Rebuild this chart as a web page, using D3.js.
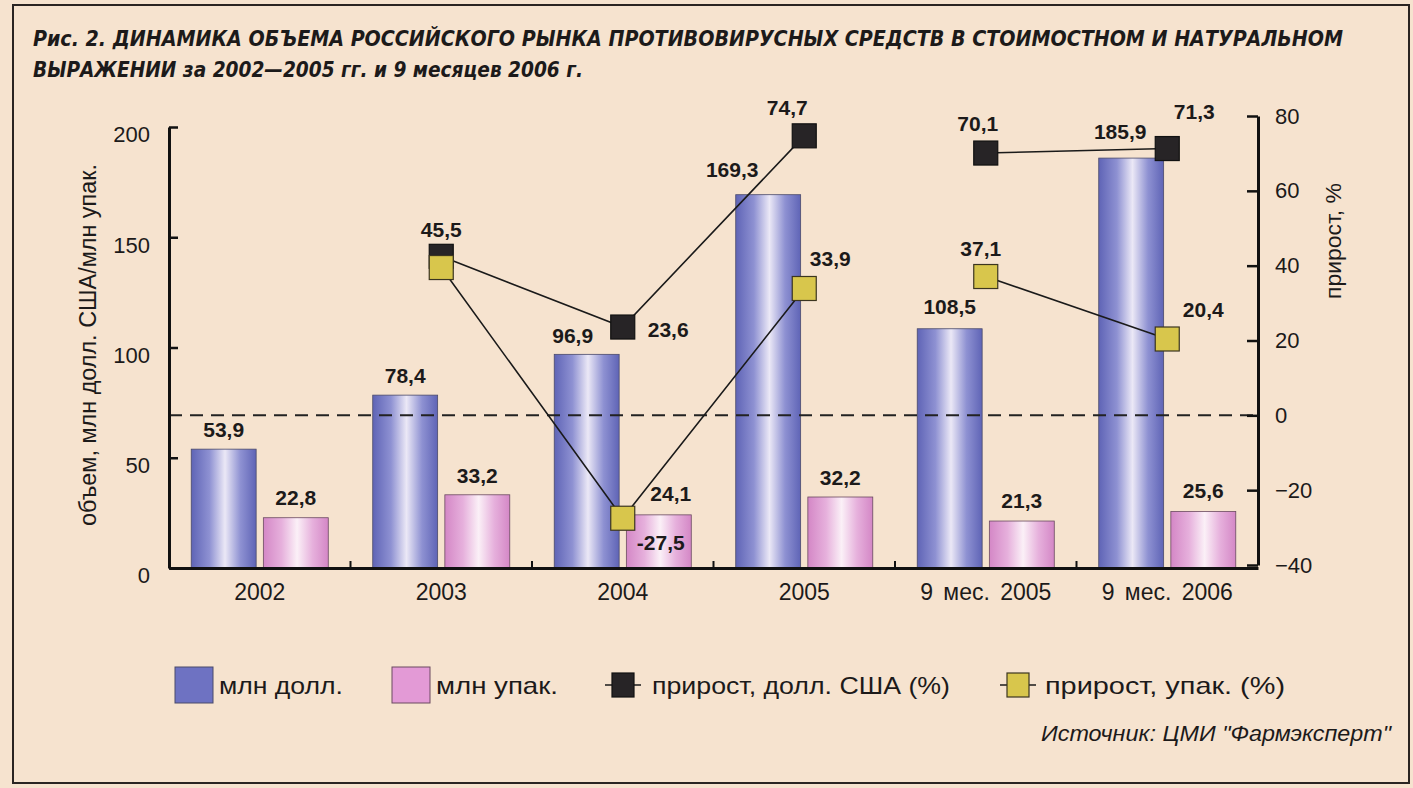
<!DOCTYPE html>
<html>
<head>
<meta charset="utf-8">
<script src="https://cdn.jsdelivr.net/npm/d3@7"></script>
<style>
  html, body { margin: 0; padding: 0; background: #f6e3cf; }
  svg { display: block; }
  text { font-family: "Liberation Sans", Arial, sans-serif; fill: #1c1a1a; }
</style>
</head>
<body>
<svg id="chart" width="1413" height="788"></svg>
<script>
// ---------- data ----------
const categories = ["2002", "2003", "2004", "2005", "9 мес. 2005", "9 мес. 2006"];
const periodGroup = ["year", "year", "year", "year", "9m", "9m"];
const usdValues  = [53.9, 78.4, 96.9, 169.3, 108.5, 185.9];   // млн долл.
const packValues = [22.8, 33.2, 24.1, 32.2, 21.3, 25.6];      // млн упак.
const usdGrowth  = [null, 42.5, 23.6, 74.7, 70.1, 71.3];      // прирост, долл. США (%)
const packGrowth = [null, 39.5, -27.5, 33.9, 37.1, 20.4];     // прирост, упак. (%)
const usdGrowthLabels  = [null, "45,5", "23,6", "74,7", "70,1", "71,3"];
const packGrowthLabels = [null, null, "-27,5", "33,9", "37,1", "20,4"];
const leftTicks  = [0, 50, 100, 150, 200];
const rightTicks = [-40, -20, 0, 20, 40, 60, 80];
const titleLines = [
  "Рис. 2. ДИНАМИКА ОБЪЕМА РОССИЙСКОГО РЫНКА ПРОТИВОВИРУСНЫХ СРЕДСТВ В СТОИМОСТНОМ И НАТУРАЛЬНОМ",
  "ВЫРАЖЕНИИ за 2002—2005 гг. и 9 месяцев 2006 г."
];
const leftTitle = "объем, млн долл. США/млн упак.";
const rightTitle = "прирост, %";
const legendItems = ["млн долл.", "млн упак.", "прирост, долл. США (%)", "прирост, упак. (%)"];
const sourceText = "Источник: ЦМИ \"Фармэксперт\"";

// ---------- label placement (style) ----------
const usdBarLabelOff  = [[0,-20],[0,-20],[-14,-19],[-36,-25],[0,-22],[-11,-27]];
const packBarLabelOff = [[0,-20],[0,-19],[12,-21],[0,-20],[0,-21],[0,-21]];
const usdGrowthOff  = [null, [0,-27,"middle"], [25,2,"start"], [-17,-28,"middle"], [-8,-30,"middle"], [27,-37,"middle"]];
const packGrowthOff = [null, null, [38,24,"middle"], [26,-30,"middle"], [-5,-28,"middle"], [36,-30,"middle"]];

const fmt = v => String(v).replace(".", ",");

const svg = d3.select("#chart");
const defs = svg.append("defs");

function cyl(id, edge, mid, center) {
  const g = defs.append("linearGradient").attr("id", id).attr("x1", "0").attr("x2", "1").attr("y1", "0").attr("y2", "0");
  g.append("stop").attr("offset", "0").attr("stop-color", edge);
  g.append("stop").attr("offset", "0.28").attr("stop-color", mid);
  g.append("stop").attr("offset", "0.52").attr("stop-color", center);
  g.append("stop").attr("offset", "0.76").attr("stop-color", mid);
  g.append("stop").attr("offset", "1").attr("stop-color", edge);
}
cyl("gBlue", "#5f64b6", "#8e91d2", "#ebe8f6");
cyl("gPink", "#d487c6", "#e6b0dc", "#fbf0f7");

// frame
svg.append("rect").attr("x", 0).attr("y", 0).attr("width", 1413).attr("height", 788).attr("fill", "#f6e3cf");
svg.append("rect").attr("x", 13).attr("y", 5).attr("width", 1396).attr("height", 778)
  .attr("fill", "none").attr("stroke", "#2a2422").attr("stroke-width", 2);

// title
const titleFont = "'Liberation Sans Narrow', 'DejaVu Sans Condensed', 'Liberation Sans', sans-serif";
svg.append("text").attr("x", 33).attr("y", 46).text(titleLines[0])
  .style("font-family", titleFont).attr("font-weight", "bold").attr("font-style", "italic")
  .attr("font-size", 22).attr("textLength", 1310).attr("lengthAdjust", "spacingAndGlyphs");
svg.append("text").attr("x", 33).attr("y", 77).text(titleLines[1])
  .style("font-family", titleFont).attr("font-weight", "bold").attr("font-style", "italic")
  .attr("font-size", 22).attr("textLength", 550).attr("lengthAdjust", "spacingAndGlyphs");

// scales
const x = d3.scaleBand().domain(categories).range([169, 1258]).paddingInner(0.245).paddingOuter(0.1225);
const xs = d3.scaleBand().domain(["usd", "pack"]).range([0, x.bandwidth()]).paddingInner(0.1);
const yL = d3.scaleLinear().domain([0, 200]).range([568, 127]);
const yR = d3.scaleLinear().domain([-40, 80]).range([565, 116]);

// bars
const bars = svg.append("g");
categories.forEach((c, i) => {
  bars.append("rect").attr("x", x(c) + xs("usd")).attr("y", yL(usdValues[i]))
    .attr("width", xs.bandwidth()).attr("height", yL(0) - yL(usdValues[i]))
    .attr("fill", "url(#gBlue)").attr("stroke", "#4a4a6a").attr("stroke-width", 0.8);
  bars.append("rect").attr("x", x(c) + xs("pack")).attr("y", yL(packValues[i]))
    .attr("width", xs.bandwidth()).attr("height", yL(0) - yL(packValues[i]))
    .attr("fill", "url(#gPink)").attr("stroke", "#6a4a60").attr("stroke-width", 0.8);
});

// zero dashed line (right axis 0)
svg.append("line").attr("x1", 169).attr("x2", 1258).attr("y1", yR(0)).attr("y2", yR(0))
  .attr("stroke", "#222").attr("stroke-width", 2).attr("stroke-dasharray", "13,8");

// axes
const axL = svg.append("g").attr("transform", "translate(169,0)")
  .call(d3.axisLeft(yL).tickValues(leftTicks).tickSizeInner(-9).tickSizeOuter(0).tickPadding(19));
axL.select(".domain").attr("stroke", "#111").attr("stroke-width", 3);
axL.selectAll(".tick line").attr("stroke", "#111").attr("stroke-width", 2.5);
axL.selectAll(".tick text").attr("font-size", 22).attr("fill", "#1c1a1a")
  .style("font-family", "'Liberation Sans', Arial, sans-serif").attr("dy", "0.68em");

const axR = svg.append("g").attr("transform", "translate(1258,0)")
  .call(d3.axisRight(yR).tickValues(rightTicks).tickSizeInner(-11).tickSizeOuter(0).tickPadding(17));
axR.select(".domain").attr("stroke", "#111").attr("stroke-width", 3);
axR.selectAll(".tick line").attr("stroke", "#111").attr("stroke-width", 2.5);
axR.selectAll(".tick text").attr("font-size", 22).attr("fill", "#1c1a1a")
  .style("font-family", "'Liberation Sans', Arial, sans-serif");

// x axis
const axX = svg.append("g").attr("transform", "translate(0,568)")
  .call(d3.axisBottom(x).tickSize(0).tickPadding(16));
axX.select(".domain").attr("stroke", "#111").attr("stroke-width", 3);
axX.selectAll(".tick text").attr("font-size", 23).attr("fill", "#1c1a1a")
  .style("font-family", "'Liberation Sans', Arial, sans-serif").style("word-spacing", "4px");
categories.slice(1).forEach(c => {
  const bx = x(c) - (x.step() - x.bandwidth()) / 2;
  svg.append("line").attr("x1", bx).attr("x2", bx).attr("y1", 568).attr("y2", 561)
    .attr("stroke", "#111").attr("stroke-width", 2);
});

// axis titles
svg.append("text").attr("transform", "translate(96,345) rotate(-90)").attr("text-anchor", "middle")
  .attr("font-size", 23).attr("textLength", 362).attr("lengthAdjust", "spacingAndGlyphs").text(leftTitle);
svg.append("text").attr("transform", "translate(1341,241) rotate(-90)").attr("text-anchor", "middle")
  .attr("font-size", 22).attr("textLength", 116).attr("lengthAdjust", "spacingAndGlyphs").text(rightTitle);

// growth lines
const cx = c => x(c) + x.bandwidth() / 2;
const line = d3.line().x(d => d[0]).y(d => d[1]);
function drawGrowth(values) {
  ["year", "9m"].forEach(g => {
    const pts = categories.map((c, i) => [c, values[i], periodGroup[i]])
      .filter(d => d[1] != null && d[2] === g).map(d => [cx(d[0]), yR(d[1])]);
    svg.append("path").attr("d", line(pts)).attr("fill", "none").attr("stroke", "#1a1a1a").attr("stroke-width", 1.6);
  });
}
drawGrowth(usdGrowth);
drawGrowth(packGrowth);

const M = 24;
function drawMarkers(values, fill, stroke) {
  categories.forEach((c, i) => {
    if (values[i] == null) return;
    svg.append("rect").attr("x", cx(c) - M / 2).attr("y", yR(values[i]) - M / 2)
      .attr("width", M).attr("height", M).attr("fill", fill).attr("stroke", stroke).attr("stroke-width", 1.2);
  });
}
drawMarkers(usdGrowth, "#272426", "#111");
drawMarkers(packGrowth, "#d8c64c", "#3b3520");

// labels
const lab = svg.append("g").attr("font-weight", "bold").attr("font-size", 21);
categories.forEach((c, i) => {
  const bxU = x(c) + xs("usd") + xs.bandwidth() / 2;
  lab.append("text").attr("x", bxU + usdBarLabelOff[i][0]).attr("y", yL(usdValues[i]) + usdBarLabelOff[i][1])
    .attr("dy", "0.36em").attr("text-anchor", "middle").text(fmt(usdValues[i]));
  const bxP = x(c) + xs("pack") + xs.bandwidth() / 2;
  lab.append("text").attr("x", bxP + packBarLabelOff[i][0]).attr("y", yL(packValues[i]) + packBarLabelOff[i][1])
    .attr("dy", "0.36em").attr("text-anchor", "middle").text(fmt(packValues[i]));
  if (usdGrowthLabels[i]) {
    const o = usdGrowthOff[i];
    lab.append("text").attr("x", cx(c) + o[0]).attr("y", yR(usdGrowth[i]) + o[1])
      .attr("dy", "0.36em").attr("text-anchor", o[2]).text(usdGrowthLabels[i]);
  }
  if (packGrowthLabels[i]) {
    const o = packGrowthOff[i];
    lab.append("text").attr("x", cx(c) + o[0]).attr("y", yR(packGrowth[i]) + o[1])
      .attr("dy", "0.36em").attr("text-anchor", o[2]).text(packGrowthLabels[i]);
  }
});

// legend
const lg = svg.append("g");
const legY = 685;
function legText(xStart, width, label) {
  lg.append("text").attr("x", xStart).attr("y", legY).attr("dy", "0.36em").attr("font-size", 24)
    .attr("textLength", width).attr("lengthAdjust", "spacingAndGlyphs").text(label);
}
lg.append("rect").attr("x", 175).attr("y", 667).attr("width", 38).attr("height", 36)
  .attr("fill", "#6e72c2").attr("stroke", "#4a4a6a").attr("stroke-width", 1);
legText(219, 124, legendItems[0]);
lg.append("rect").attr("x", 392).attr("y", 667).attr("width", 38).attr("height", 36)
  .attr("fill", "#e39ad6").attr("stroke", "#6a4a60").attr("stroke-width", 1);
legText(436, 122, legendItems[1]);

function legLine(x0, fill, stroke) {
  lg.append("line").attr("x1", x0).attr("x2", x0 + 36).attr("y1", legY).attr("y2", legY)
    .attr("stroke", "#1a1a1a").attr("stroke-width", 1.6);
  lg.append("rect").attr("x", x0 + 7).attr("y", legY - 12).attr("width", 22).attr("height", 24)
    .attr("fill", fill).attr("stroke", stroke).attr("stroke-width", 1.2);
}
legLine(605, "#272426", "#111");
legText(652, 298, legendItems[2]);
legLine(1000, "#d8c64c", "#3b3520");
legText(1045, 240, legendItems[3]);

// source
svg.append("text").attr("x", 1391).attr("y", 741).attr("text-anchor", "end")
  .attr("font-style", "italic").attr("font-size", 22)
  .attr("textLength", 350).attr("lengthAdjust", "spacingAndGlyphs").text(sourceText);
</script>
</body>
</html>
